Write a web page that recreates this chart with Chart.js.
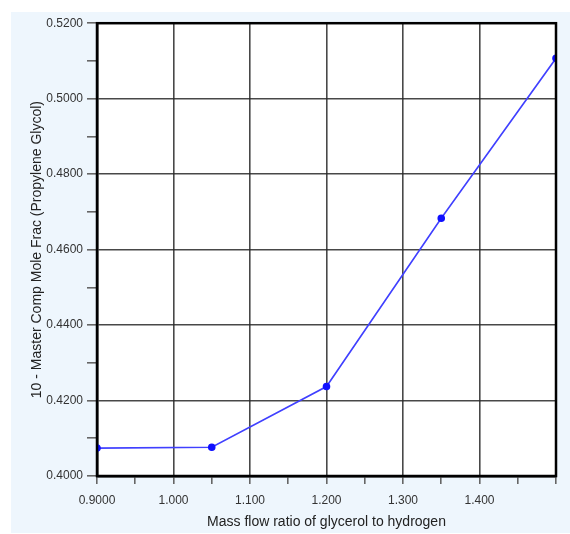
<!DOCTYPE html>
<html>
<head>
<meta charset="utf-8">
<script src="https://cdn.jsdelivr.net/npm/chart.js@4"></script>
<style>
  body { margin: 0; background: #fff; }
  #panel { position: absolute; left: 11px; top: 12px; width: 559px; height: 521px; background: #eef6fd; }
</style>
</head>
<body>
<div id="panel"><canvas id="chart" width="559" height="521"></canvas></div>
<script>
// values
const ratios = [0.9, 1.05, 1.2, 1.35, 1.5];
const moleFrac = [0.4074, 0.4076, 0.4237, 0.4683, 0.5107];

// tick labels, keyed by value in hundredths
const xTickLabels = { 90: '0.9000', 100: '1.000', 110: '1.100', 120: '1.200', 130: '1.300', 140: '1.400' };
const yTickLabels = { 40: '0.4000', 42: '0.4200', 44: '0.4400', 46: '0.4600', 48: '0.4800', 50: '0.5000', 52: '0.5200' };

const xTitle = 'Mass flow ratio of glycerol to hydrogen';
const yTitle = '10 - Master Comp Mole Frac (Propylene Glycol)';

const hund = v => Math.round(v * 100);
const font = 'Liberation Sans, Arial, sans-serif';

// white plot area and a black frame round it
const frame = {
    id: 'frame',
    beforeDraw(chart) {
        const { ctx, chartArea: a } = chart;
        ctx.save();
        ctx.fillStyle = '#fff';
        ctx.fillRect(a.left, a.top, a.right - a.left, a.bottom - a.top);
        ctx.restore();
    },
    afterDraw(chart) {
        const { ctx, chartArea: a } = chart;
        ctx.save();
        ctx.strokeStyle = '#000';
        ctx.lineWidth = 2.5;
        ctx.strokeRect(a.left, a.top, a.right - a.left, a.bottom - a.top);
        ctx.restore();
    }
};

new Chart(document.getElementById('chart'), {
    type: 'line',
    data: {
        datasets: [{
            data: ratios.map((x, i) => ({ x: x, y: moleFrac[i] })),
            borderColor: '#4040ff',
            borderWidth: 1.6,
            pointBackgroundColor: '#1010ff',
            pointBorderColor: '#1010ff',
            pointRadius: 3,
            tension: 0
        }]
    },
    options: {
        responsive: false,
        animation: false,
        layout: { padding: { left: 0, right: 14, top: 10, bottom: 0 } },
        plugins: { legend: { display: false }, tooltip: { enabled: false } },
        scales: {
            x: {
                type: 'linear',
                min: 0.9,
                max: 1.5,
                afterFit: s => { s.height = 57; },
                ticks: {
                    stepSize: 0.05,
                    autoSkip: false,
                    maxRotation: 0,
                    padding: 9,
                    color: '#333',
                    font: { family: font, size: 12 },
                    callback: v => xTickLabels[hund(v)] || ''
                },
                grid: {
                    color: c => (hund(c.tick.value) % 10 === 0 ? 'rgba(40,40,40,0.85)' : 'rgba(0,0,0,0)'),
                    lineWidth: 1.6,
                    tickColor: '#666',
                    tickLength: 8
                },
                border: { color: '#000', width: 2.5 },
                title: {
                    display: true,
                    text: xTitle,
                    color: '#222',
                    font: { family: font, size: 14 },
                    padding: { top: 0, bottom: 2 }
                }
            },
            y: {
                min: 0.4,
                max: 0.52,
                afterFit: s => { s.width = 86; },
                ticks: {
                    stepSize: 0.01,
                    autoSkip: false,
                    padding: 4,
                    color: '#333',
                    font: { family: font, size: 12 },
                    callback: v => yTickLabels[hund(v)] || ''
                },
                grid: {
                    color: c => (hund(c.tick.value) % 2 === 0 ? 'rgba(40,40,40,0.85)' : 'rgba(0,0,0,0)'),
                    lineWidth: 1.6,
                    tickColor: '#666',
                    tickLength: 10
                },
                border: { color: '#000', width: 2.5 },
                title: {
                    display: true,
                    text: yTitle,
                    color: '#222',
                    font: { family: font, size: 14 },
                    padding: { top: 18, bottom: 0 }
                }
            }
        }
    },
    plugins: [frame]
});
</script>
</body>
</html>
